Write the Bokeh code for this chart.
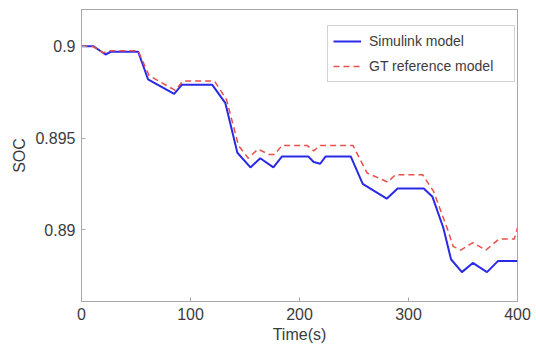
import numpy as np
from bokeh.plotting import figure
from bokeh.models import FixedTicker, Range1d, Legend, LegendItem
from bokeh.embed import file_html
from bokeh.resources import INLINE

# Simulink model (blue solid)
time_sim = [0, 11, 22, 27, 52, 61, 85, 92, 120, 132, 143, 155, 164, 176, 184, 208, 213,
            219, 224, 247, 258, 280, 290, 314, 322, 332, 339, 349, 359, 372, 382, 400]
soc_sim = [0.9, 0.9, 0.89955, 0.8997, 0.8997, 0.8982, 0.8974, 0.8979, 0.8979, 0.8969,
           0.8942, 0.8934, 0.8939, 0.8934, 0.8940, 0.8940, 0.8937, 0.8936, 0.8940, 0.8940,
           0.8925, 0.8917, 0.89225, 0.89225, 0.8918, 0.8901, 0.8884, 0.8877, 0.8882,
           0.8877, 0.8883, 0.8883]

# GT reference model (red dashed)
time_gt = [0, 10, 20, 26, 52, 62, 86, 93, 122, 133, 144, 153, 162, 172, 177, 184, 207,
           213, 219, 249, 262, 281, 288, 313, 323, 336, 341, 348, 359, 371, 383, 397, 400]
soc_gt = [0.9, 0.9, 0.89965, 0.89975, 0.89975, 0.8984, 0.8976, 0.8981, 0.8981, 0.8971,
          0.8946, 0.8939, 0.8944, 0.8941, 0.8941, 0.8946, 0.8946, 0.8943, 0.8946, 0.8946,
          0.8931, 0.8926, 0.8930, 0.8930, 0.8921, 0.8900, 0.8891, 0.8889, 0.8893, 0.8889,
          0.8895, 0.8895, 0.8901]

x_ticks = [0, 100, 200, 300, 400]
y_ticks = [0.89, 0.895, 0.9]
y_tick_labels = ["0.89", "0.895", "0.9"]
series_names = ["Simulink model", "GT reference model"]
x_title = "Time(s)"
y_title = "SOC"

FONT = "Liberation Sans"
TXT = "#3c3c3c"
AX = "#a8a8a8"

x0, x1 = 0, 400
y0, y1 = 0.8861, 0.9020

p = figure(width=536, height=348, output_backend="svg", toolbar_location=None,
           x_range=Range1d(x0, x1), y_range=Range1d(y0, y1),
           min_border_left=81, min_border_right=19, min_border_top=9, min_border_bottom=47)
p.background_fill_color = "white"
p.border_fill_color = "white"
p.grid.visible = False
p.outline_line_color = AX
p.outline_line_width = 1

for ax in (p.xaxis[0], p.yaxis[0]):
    ax.axis_line_color = AX
    ax.major_tick_line_color = AX
    ax.major_tick_in = 4
    ax.major_tick_out = 0
    ax.minor_tick_line_color = None
    ax.major_label_text_font = FONT
    ax.major_label_text_font_size = "16px"
    ax.major_label_text_color = TXT
    ax.axis_label_text_font = FONT
    ax.axis_label_text_font_size = "16px"
    ax.axis_label_text_font_style = "normal"
    ax.axis_label_text_color = TXT

p.xaxis.ticker = FixedTicker(ticks=x_ticks)
p.xaxis.major_label_standoff = 6
p.xaxis.axis_label = x_title
p.xaxis.axis_label_standoff = 3
p.yaxis.ticker = FixedTicker(ticks=y_ticks)
p.yaxis.major_label_overrides = {t: l for t, l in zip(y_ticks, y_tick_labels)}
p.yaxis.major_label_standoff = 6
p.yaxis.axis_label = y_title
p.yaxis.axis_label_standoff = 4

r1 = p.line(time_sim, soc_sim, line_color="#2a2ae6", line_width=2)
r2 = p.line(time_gt, soc_gt, line_color="#e8504a", line_width=1.5, line_dash="6 4")

legend = Legend(items=[LegendItem(label=series_names[0], renderers=[r1]),
                       LegendItem(label=series_names[1], renderers=[r2])],
                location=(246, 219))
legend.label_text_font = FONT
legend.label_text_font_size = "14px"
legend.label_text_color = TXT
legend.border_line_color = AX
legend.border_line_width = 1
legend.background_fill_color = "white"
legend.background_fill_alpha = 1
legend.glyph_width = 28
legend.glyph_height = 20
legend.label_height = 20
legend.label_width = 140
legend.label_standoff = 8
legend.spacing = 5
legend.padding = 5
legend.margin = 0
p.add_layout(legend)

open("out.html", "w").write(file_html(p, INLINE))
